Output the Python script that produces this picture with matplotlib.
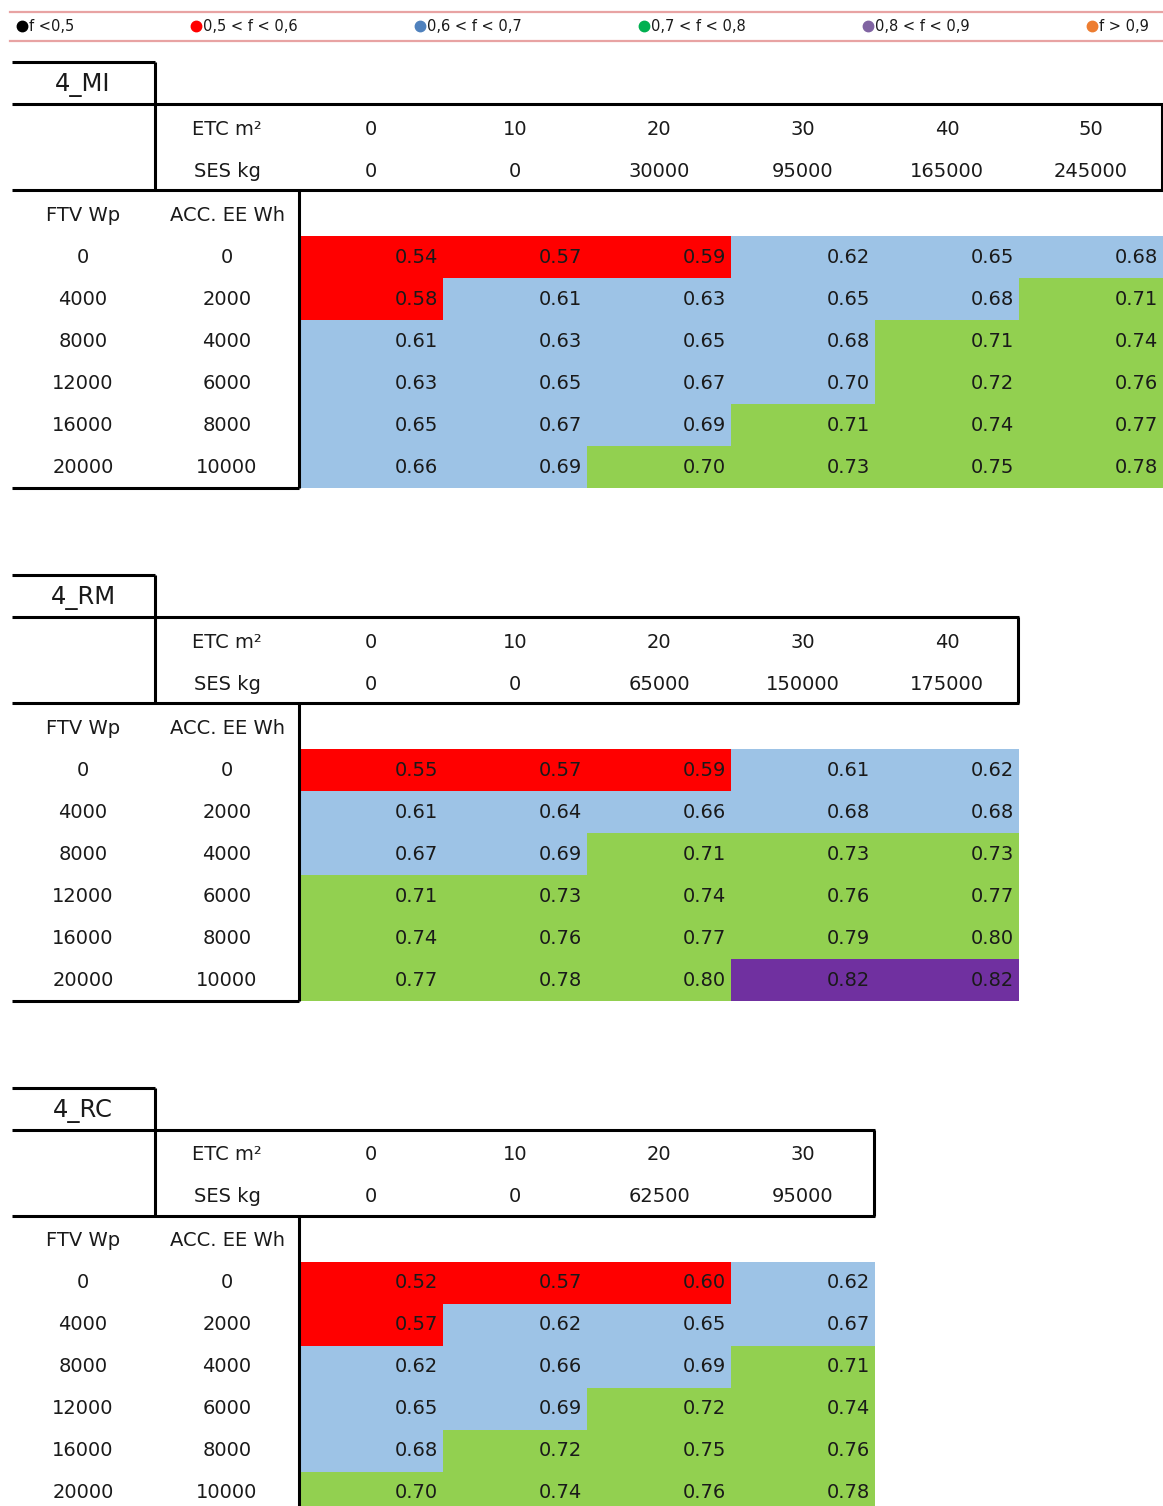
import matplotlib.pyplot as plt
from matplotlib.patches import Rectangle

# Legend entries
legend_labels = ['f <0,5', '0,5 < f < 0,6', '0,6 < f < 0,7', '0,7 < f < 0,8', '0,8 < f < 0,9', 'f > 0,9']
legend_colors = ['#000000', '#FF0000', '#4F81BD', '#00B050', '#8064A2', '#ED7D31']

# Row labels (shared)
ftv_wp = [0, 4000, 8000, 12000, 16000, 20000]
acc_ee = [0, 2000, 4000, 6000, 8000, 10000]

# 4_MI
mi_etc = [0, 10, 20, 30, 40, 50]
mi_ses = [0, 0, 30000, 95000, 165000, 245000]
mi_vals = [
    [0.54, 0.57, 0.59, 0.62, 0.65, 0.68],
    [0.58, 0.61, 0.63, 0.65, 0.68, 0.71],
    [0.61, 0.63, 0.65, 0.68, 0.71, 0.74],
    [0.63, 0.65, 0.67, 0.70, 0.72, 0.76],
    [0.65, 0.67, 0.69, 0.71, 0.74, 0.77],
    [0.66, 0.69, 0.70, 0.73, 0.75, 0.78],
]
mi_cls = ['RRRBBB', 'RBBBBG', 'BBBBGG', 'BBBBGG', 'BBBGGG', 'BBGGGG']

# 4_RM
rm_etc = [0, 10, 20, 30, 40]
rm_ses = [0, 0, 65000, 150000, 175000]
rm_vals = [
    [0.55, 0.57, 0.59, 0.61, 0.62],
    [0.61, 0.64, 0.66, 0.68, 0.68],
    [0.67, 0.69, 0.71, 0.73, 0.73],
    [0.71, 0.73, 0.74, 0.76, 0.77],
    [0.74, 0.76, 0.77, 0.79, 0.80],
    [0.77, 0.78, 0.80, 0.82, 0.82],
]
rm_cls = ['RRRBB', 'BBBBB', 'BBGGG', 'GGGGG', 'GGGGG', 'GGGPP']

# 4_RC
rc_etc = [0, 10, 20, 30]
rc_ses = [0, 0, 62500, 95000]
rc_vals = [
    [0.52, 0.57, 0.60, 0.62],
    [0.57, 0.62, 0.65, 0.67],
    [0.62, 0.66, 0.69, 0.71],
    [0.65, 0.69, 0.72, 0.74],
    [0.68, 0.72, 0.75, 0.76],
    [0.70, 0.74, 0.76, 0.78],
]
rc_cls = ['RRRB', 'RBBB', 'BBBG', 'BBGG', 'BGGG', 'GGGG']

fill = {'R': '#FF0000', 'B': '#9DC3E6', 'G': '#92D050', 'P': '#7030A0'}

plt.rcParams['font.family'] = 'DejaVu Sans'
txt = '#1a1a1a'
LW = 2.2
FS = 14

fig = plt.figure(figsize=(11.63, 15.06), dpi=100)
ax = fig.add_axes([0, 0, 1, 1])
ax.set_xlim(0, 1163)
ax.set_ylim(1506, 0)
ax.axis('off')

# legend strip
ax.plot([10, 1163], [12, 12], color='#E8A3A3', lw=1.6)
ax.plot([10, 1163], [41, 41], color='#E8A3A3', lw=1.6)
dot_x = [22, 196, 420, 644, 868, 1092]
for x, lab, col in zip(dot_x, legend_labels, legend_colors):
    ax.plot(x, 26, 'o', color=col, ms=7.5)
    ax.text(x + 7, 26, lab, fontsize=10.5, color=txt, ha='left', va='center')


def draw_table(y0, title, etc, ses, vals, cls):
    ncol = len(etc)
    right = 299 + ncol * 144
    kw = dict(color='black', lw=LW, solid_capstyle='butt', zorder=5)
    ax.plot([12, 155], [y0 + 62, y0 + 62], **kw)
    ax.plot([155, 155], [y0 + 62, y0 + 190], **kw)
    ax.plot([12, right], [y0 + 104, y0 + 104], **kw)
    ax.plot([right - 1, right - 1], [y0 + 104, y0 + 190], **kw)
    ax.plot([12, right], [y0 + 190, y0 + 190], **kw)
    ax.plot([299, 299], [y0 + 190, y0 + 488], **kw)
    ax.plot([12, 299], [y0 + 488, y0 + 488], **kw)

    ax.text(83, y0 + 85, title, fontsize=17.5, color=txt, ha='center', va='center')
    ax.text(227, y0 + 129, 'ETC m²', fontsize=FS, color=txt, ha='center', va='center')
    ax.text(227, y0 + 171, 'SES kg', fontsize=FS, color=txt, ha='center', va='center')
    ax.text(83, y0 + 215, 'FTV Wp', fontsize=FS, color=txt, ha='center', va='center')
    ax.text(227, y0 + 215, 'ACC. EE Wh', fontsize=FS, color=txt, ha='center', va='center')

    for j in range(ncol):
        cx = 299 + j * 144 + 72
        ax.text(cx, y0 + 129, str(etc[j]), fontsize=FS, color=txt, ha='center', va='center')
        ax.text(cx, y0 + 171, str(ses[j]), fontsize=FS, color=txt, ha='center', va='center')

    for r in range(len(vals)):
        ytop = y0 + 236 + r * 42
        ax.text(83, ytop + 21, str(ftv_wp[r]), fontsize=FS, color=txt, ha='center', va='center')
        ax.text(227, ytop + 21, str(acc_ee[r]), fontsize=FS, color=txt, ha='center', va='center')
        for j in range(ncol):
            x = 299 + j * 144
            ax.add_patch(Rectangle((x, ytop), 144, 42, facecolor=fill[cls[r][j]],
                                   edgecolor='none', zorder=1))
            ax.text(x + 139, ytop + 21, f'{vals[r][j]:.2f}', fontsize=FS, color=txt,
                    ha='right', va='center', zorder=3)


draw_table(0, '4_MI', mi_etc, mi_ses, mi_vals, mi_cls)
draw_table(513, '4_RM', rm_etc, rm_ses, rm_vals, rm_cls)
draw_table(1026, '4_RC', rc_etc, rc_ses, rc_vals, rc_cls)

plt.savefig('out.png', dpi=100)
